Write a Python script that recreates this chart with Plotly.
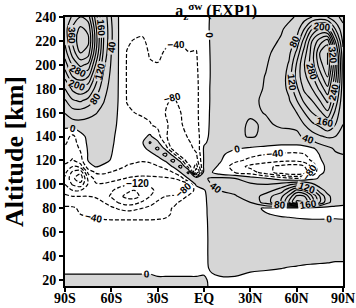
import plotly.graph_objects as go

# latitude (deg, negative = south) and altitude (km) of the grid
lat_deg = [-90, -85, -80, -75, -70, -65, -60, -55, -50, -45, -40, -35, -30, -25, -20, -15, -10, -5, 0,
           5, 10, 20, 30, 40, 50, 55, 60, 65, 70, 75, 80, 85, 90]
alt_km = [15, 20, 30, 40, 55, 70, 75, 80, 85, 90, 95, 100, 105, 110, 115, 120, 125, 130, 135, 140,
          150, 160, 170, 180, 190, 200, 210, 220, 230, 240]

# a_z^{sigma w} values, one row per altitude (bottom to top)
accel = [
    # 15
    [6, 6, 6, 6, 6, 6, 6, 6, 6, 6, 6, 6, 6, 6, 6, 6, 6, 6, 3, -3, -2, -3, -3, -3, -3, -3, -3, -3, -3, -3, -3, -3, -3],
    # 20
    [5, 5, 5, 5, 5, 5, 5, 5, 5, 5, 5, 5, 3, 3, 3, 3, 3, 3, 2, -3, -2, -1.5, -3, -4, -5, -5, -5, -5, -5, -5, -5, -5, -5],
    # 30
    [-5, -5, -5, -5, -5, -5, -5, -5, -5, -5, -5, -5, -7, -7, -7, -7, -7, -7, -3, 2, 4, 3.5, 1.5, 1, 0.2, -0.5, -1, -1.5, -2, -2.5, -3, -3.5, -3.5],
    # 40
    [-5, -5, -5, -5, -6, -6, -6, -6, -6, -6, -6, -6, -6, -6, -5, -5, -5, -5, -3, 3, 5, 6, 5, 5, 5, 5, 5, 4, 4, 4, 4, 3, 3],
    # 55
    [-10, -10, -10, -12, -14, -15, -17, -18, -18, -18, -18, -18, -17, -15, -13, -10, -8, -6, -4, 4, 6, 8, 8, 8, 7, 6, 5, 4, 3, 3, 3, 3, 3],
    # 70
    [-18, -20, -22, -30, -36, -38, -39, -39, -39, -39, -39, -39, -38, -36, -28, -18, -10, -8, -4, 5, 8, 10, 10, 10, 8, 6, 4, 3, 2, 2, 2, 2, 1],
    # 75
    [-25, -28, -40, -45, -48, -52, -55, -58, -60, -58, -56, -54, -52, -47, -36, -22, -12, -10, -4, 6, 10, 14, 8, 2, -5, -6, -8, -10, -10, -10, -8, -6, -5],
    # 80
    [-35, -35, -46, -50, -52, -58, -72, -85, -95, -90, -80, -70, -58, -48, -38, -25, -15, -10, -5, 8, 12, 15, 12, -5, -15, -20, -30, -30, -25, -20, -15, -12, -10],
    # 85
    [-50, -55, -60, -60, -65, -80, -100, -125, -140, -135, -115, -95, -75, -60, -50, -35, -20, -12, -6, 12, 20, 25, 40, 100, 160, 240, 330, 320, 220, 120, 50, 20, 10],
    # 90
    [-70, -80, -80, -80, -85, -105, -125, -150, -170, -175, -150, -120, -95, -80, -75, -55, -35, -15, -8, 20, 30, 38, 50, 100, 150, 210, 290, 280, 200, 120, 50, 20, 10],
    # 95
    [-100, -120, -120, -100, -95, -105, -115, -135, -150, -160, -150, -130, -110, -100, -105, -95, -60, -30, -5, 30, 40, 45, 48, 60, 100, 150, 210, 190, 130, 60, 25, 10, 5],
    # 100
    [-120, -165, -185, -115, -85, -85, -95, -105, -115, -125, -128, -115, -105, -100, -110, -110, -80, 10, 30, 40, 50, 50, 45, 40, 55, 70, 90, 80, 50, 20, 10, 5, 5],
    # 105
    [-125, -190, -230, -110, -65, -55, -62, -72, -82, -88, -90, -90, -88, -85, -80, -60, 5, 40, 35, 45, 50, 40, 20, 2, -20, -30, -40, -30, -10, 5, 5, 5, 8],
    # 110
    [-110, -170, -190, -70, -35, -35, -42, -50, -58, -62, -65, -62, -60, -55, -40, 2, 50, -200, 20, 2, -20, -40, -60, -100, -140, -160, -160, -140, -80, -5, 5, 10, 15],
    # 115
    [-90, -120, -100, -15, 3, -5, -20, -32, -42, -45, -48, -48, -42, -30, 5, 55, -60, -140, 10, 10, -5, -60, -90, -110, -130, -140, -140, -120, -70, -15, 10, 20, 25],
    # 120
    [-65, -85, -55, 2, 14, 8, -2, -18, -32, -36, -38, -35, -20, 5, 55, -20, -120, -100, 5, 12, 5, -30, -50, -60, -70, -72, -72, -60, -35, -5, 15, 30, 35],
    # 125
    [-55, -70, -45, 3, 18, 12, 1, -14, -25, -28, -25, -15, 10, 55, -20, -110, -110, -85, 5, 12, 8, -15, -30, -40, -48, -50, -50, -42, -25, 2, 20, 35, 40],
    # 130
    [-45, -60, -35, 5, 20, 16, 3, -12, -22, -22, -15, 15, 50, -10, -100, -120, -95, -70, 5, 12, 12, 3, -5, -10, -15, -15, -15, -12, -5, 10, 30, 45, 50],
    # 135
    [-35, -55, -25, 8, 22, 18, 5, -10, -20, -18, -5, 45, 10, -50, -120, -110, -85, -65, -5, 10, 14, 15, 20, 15, 10, 10, 10, 15, 30, 50, 60, 60, 55],
    # 140
    [-25, -50, -15, 10, 22, 18, 6, -8, -22, -20, -12, 8, -25, -70, -115, -100, -75, -60, -10, 8, 16, 32, 43, 34, 30, 30, 32, 45, 60, 75, 85, 80, 70],
    # 150
    [12, 22, 26, 26, 25, 20, 10, -5, -28, -32, -34, -38, -48, -70, -100, -85, -60, -52, -12, 6, 14, 30, 44, 36, 44, 45, 48, 80, 110, 130, 160, 120, 80],
    # 160
    [42, 62, 62, 52, 42, 30, 15, -4, -36, -40, -43, -46, -58, -80, -95, -80, -55, -50, -12, 5, 12, 25, 36, 41, 58, 60, 80, 120, 160, 190, 230, 150, 85],
    # 170
    [75, 115, 125, 105, 72, 42, 20, -3, -41, -45, -48, -48, -55, -75, -85, -72, -50, -50, -12, 4, 10, 22, 35, 44, 64, 75, 118, 170, 200, 240, 290, 190, 90],
    # 180
    [120, 170, 190, 170, 105, 55, 25, -3, -42, -48, -50, -48, -50, -65, -75, -65, -48, -50, -12, 4, 10, 20, 32, 42, 62, 90, 150, 210, 240, 290, 350, 230, 95],
    # 190
    [170, 240, 260, 240, 145, 70, 30, -3, -42, -48, -50, -46, -44, -52, -62, -58, -45, -48, -12, 3, 10, 20, 30, 41, 60, 95, 175, 230, 270, 340, 400, 260, 100],
    # 200
    [220, 290, 330, 310, 195, 90, 35, -3, -42, -48, -50, -42, -41, -48, -55, -52, -42, -45, -12, 3, 10, 20, 30, 38, 55, 85, 165, 240, 300, 380, 440, 280, 100],
    # 210
    [260, 340, 400, 380, 240, 110, 40, -3, -41, -46, -48, -38, -36, -42, -45, -46, -41, -42, -10, 3, 10, 20, 28, 36, 48, 70, 130, 220, 300, 400, 440, 260, 90],
    # 220
    [290, 370, 430, 410, 260, 120, 45, -3, -36, -42, -43, -35, -32, -36, -38, -38, -32, -32, -8, 3, 10, 18, 25, 33, 42, 55, 90, 180, 280, 340, 380, 200, 70],
    # 230
    [300, 370, 410, 390, 250, 120, 45, -3, -20, -30, -35, -30, -28, -28, -30, -28, -20, -20, -6, 3, 10, 15, 22, 30, 38, 45, 60, 120, 200, 240, 220, 120, 50],
    # 240
    [280, 330, 360, 340, 220, 110, 40, -3, -15, -25, -28, -25, -22, -22, -22, -20, -15, -12, -5, 2, 8, 12, 18, 25, 32, 36, 42, 60, 80, 90, 80, 50, 30],
]

x_tick_vals = [-90, -60, -30, 0, 30, 60, 90]
x_tick_text = ["90S", "60S", "30S", "EQ", "30N", "60N", "90N"]
y_tick_vals = [20, 40, 60, 80, 100, 120, 140, 160, 180, 200, 220, 240]

# tiny nudge so no grid value sits exactly on a contour level
z = [[v + 0.01 for v in row] for row in accel]

serif = "Liberation Serif"
lab_font = dict(family="Liberation Sans", size=10, color="#000000", weight="bold")

fig = go.Figure()
# shade the positive region (plotly shades the part outside the constraint)
fig.add_trace(go.Contour(
    x=lat_deg, y=alt_km, z=z, showscale=False, hoverinfo="skip",
    contours=dict(type="constraint", operation="<", value=0),
    fillcolor="#d6d6d6", line=dict(width=0, color="rgba(0,0,0,0)"),
))
fig.add_trace(go.Contour(
    x=lat_deg, y=alt_km, z=z, showscale=False, hoverinfo="skip",
    contours=dict(coloring="none", start=0, end=440, size=40, showlabels=True, labelfont=lab_font),
    line=dict(color="black", width=1.2, smoothing=1),
))
fig.add_trace(go.Contour(
    x=lat_deg, y=alt_km, z=z, showscale=False, hoverinfo="skip",
    contours=dict(coloring="none", start=-400, end=-40, size=40, showlabels=True, labelfont=lab_font),
    line=dict(color="black", width=1.2, dash="4px,2px", smoothing=1),
))

fig.update_layout(
    width=356, height=308,
    margin=dict(l=65, r=13, t=17, b=22),
    paper_bgcolor="white", plot_bgcolor="white",
    showlegend=False,
    title=dict(text="a<sub>z</sub><sup>σw</sup> (EXP1)", x=0.607, xanchor="center",
               y=0.965, yanchor="middle", yref="container",
               font=dict(family=serif, size=16, color="black", weight="bold")),
    xaxis=dict(range=[-90, 90], tickvals=x_tick_vals, ticktext=x_tick_text,
               ticks="outside", ticklen=4, tickwidth=1.5, tickcolor="black",
               ticklabelstandoff=-6,
               showline=True, mirror=True, linewidth=2, linecolor="black",
               showgrid=False, zeroline=False, automargin=False,
               tickfont=dict(family=serif, size=14, color="black", weight="bold")),
    yaxis=dict(range=[15, 240], tickvals=y_tick_vals,
               ticks="outside", ticklen=4, tickwidth=1.5, tickcolor="black",
               showline=True, mirror=True, linewidth=2, linecolor="black",
               showgrid=False, zeroline=False, automargin=False,
               tickfont=dict(family=serif, size=14, color="black", weight="bold"),
               title=dict(text="Altitude [km]", standoff=8,
                          font=dict(family=serif, size=26, color="black", weight="bold"))),
)

fig.write_html("out.html", config={"displayModeBar": False},
               post_script="document.body.style.margin='0';")
